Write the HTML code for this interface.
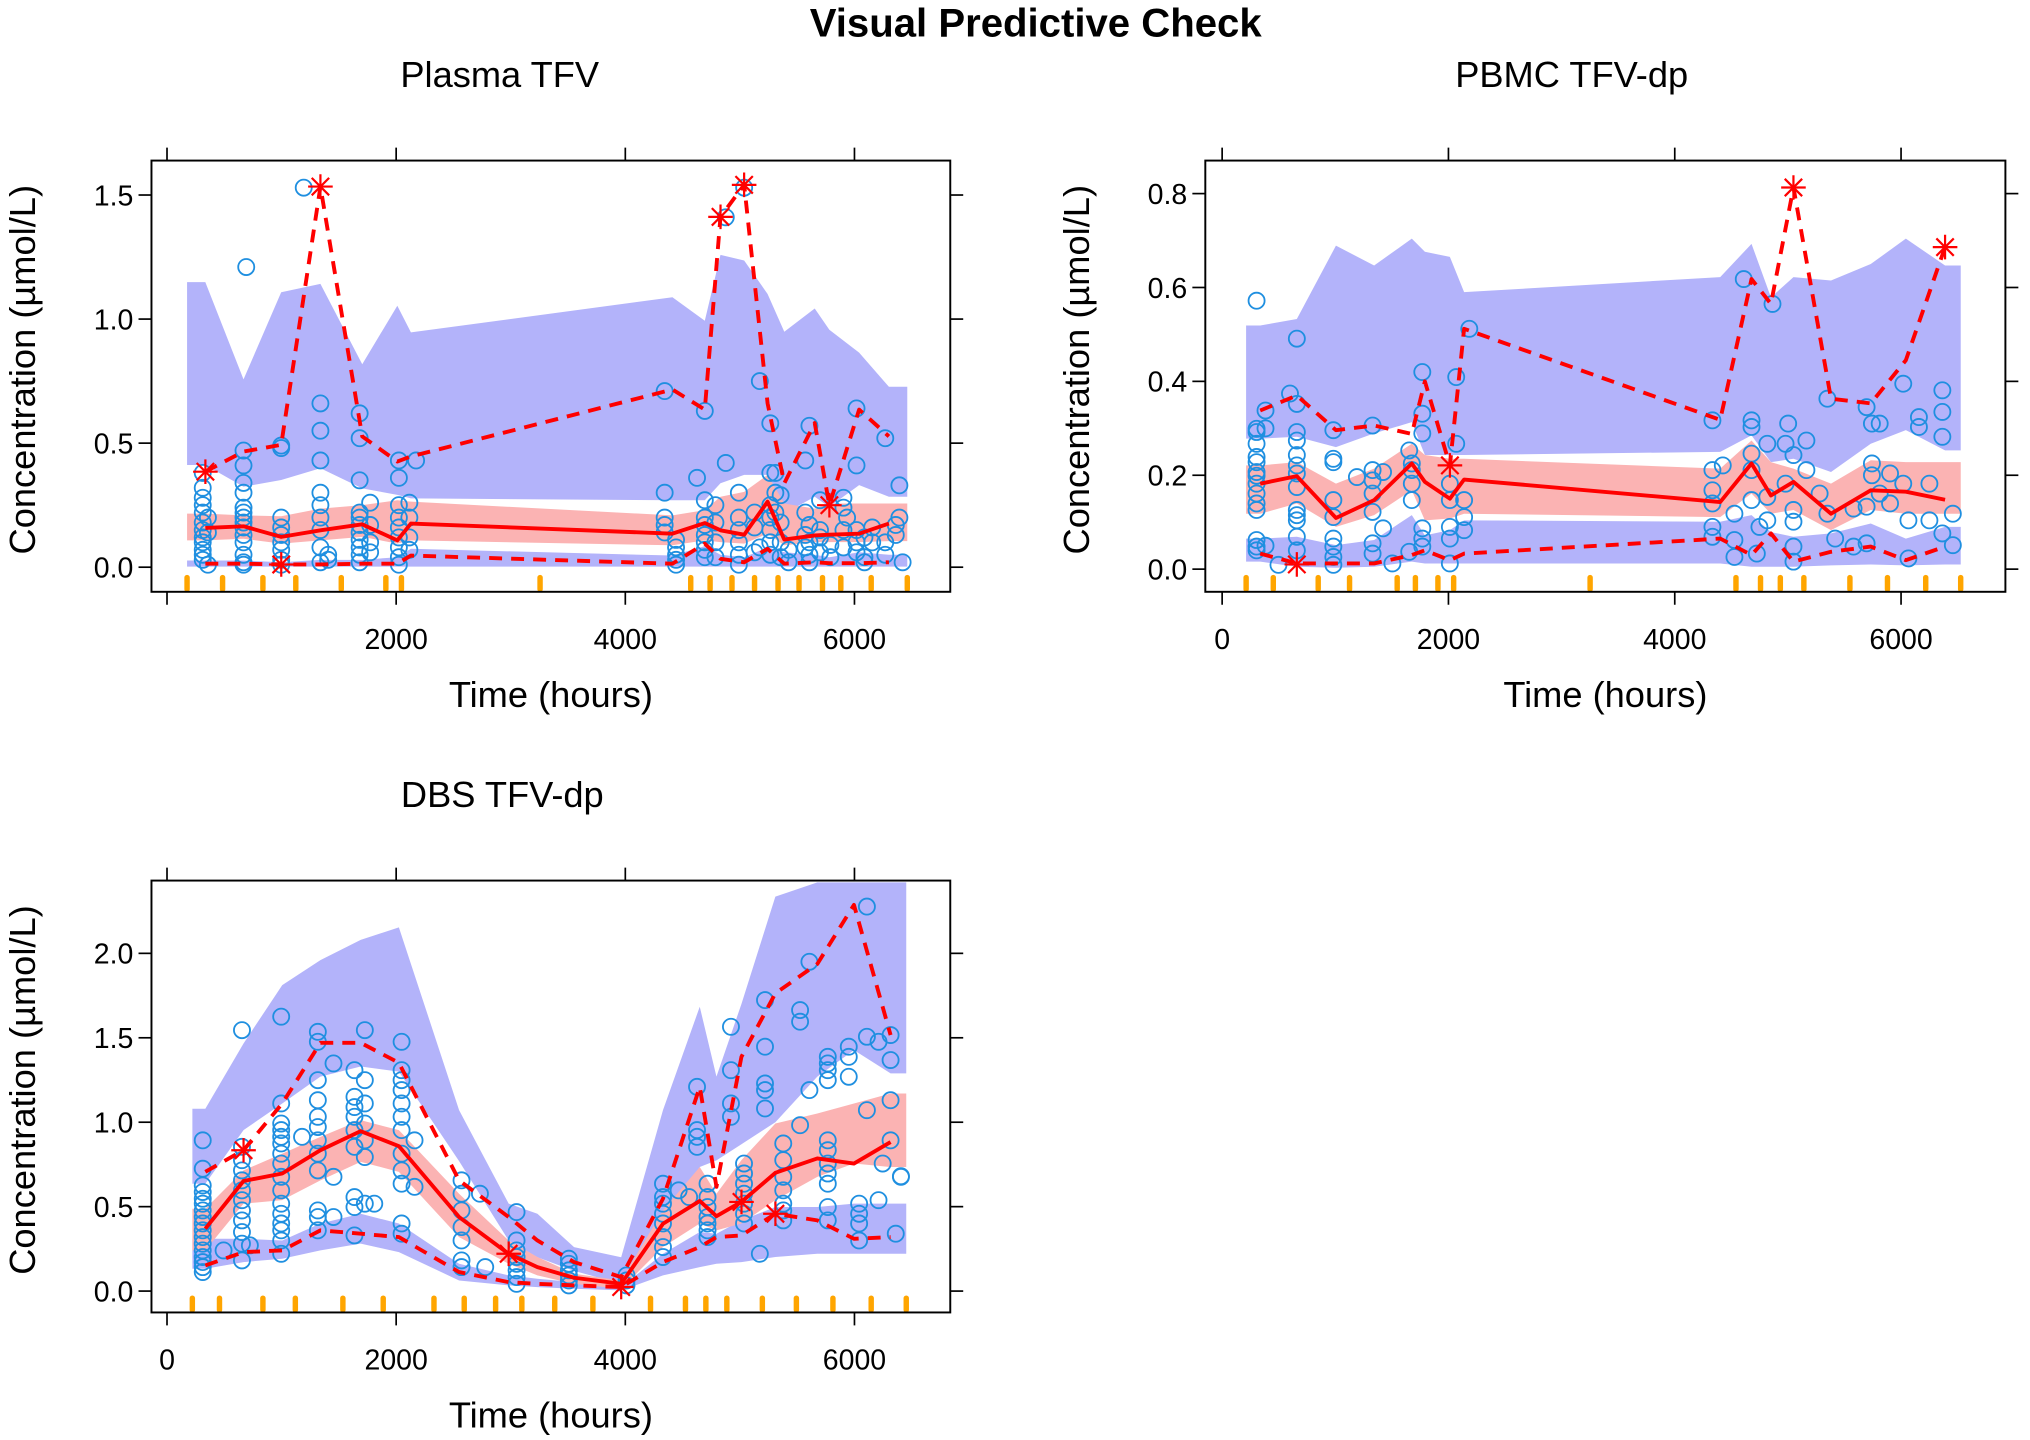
<!DOCTYPE html>
<html><head><meta charset="utf-8"><title>Visual Predictive Check</title>
<style>
html,body{margin:0;padding:0;background:#fff;}
svg{display:block;font-family:"Liberation Sans",Arial,sans-serif;}
</style></head>
<body>
<svg id="chart" width="2030" height="1440" viewBox="0 0 1568 1112" preserveAspectRatio="none" xmlns="http://www.w3.org/2000/svg">
<text x="800" y="28" text-anchor="middle" font-size="31" font-weight="bold">Visual Predictive Check</text>
</svg>
<script>
// ---------- Panel 1: Plasma TFV ----------
const p1Times=[335,668,997,1339,1704,2010,2129,4411,4694,4831,5037,5242,5388,5653,5781,6041,6301];
const p1Rug=[175,485,837,1124,1521,1910,2046,3256,4571,4740,4931,5128,5333,5516,5721,5881,6146,6461];
const p1HiBandTop=[1.149,0.757,1.108,1.142,0.818,1.054,0.946,1.088,0.993,1.259,1.236,1.101,0.949,1.043,0.957,0.865,0.727];
const p1HiBandBot=[0.412,0.324,0.351,0.399,0.318,0.291,0.277,0.270,0.270,0.338,0.372,0.372,0.216,0.284,0.243,0.331,0.284];
const p1MedBandTop=[0.216,0.209,0.205,0.236,0.250,0.270,0.264,0.209,0.230,0.284,0.304,0.372,0.257,0.236,0.257,0.257,0.257];
const p1MedBandBot=[0.108,0.115,0.095,0.108,0.122,0.095,0.108,0.088,0.108,0.101,0.095,0.135,0.088,0.101,0.101,0.101,0.105];
const p1LoBandTop=[0.027,0.027,0.020,0.030,0.030,0.040,0.074,0.047,0.085,0.050,0.040,0.080,0.060,0.050,0.040,0.060,0.050];
const p1LoBandBot=[0.002,0.002,0.002,0.002,0.002,0.002,0.002,0.002,0.002,0.002,0.002,0.002,0.002,0.002,0.002,0.002,0.002];
const p1ObsHi=[0.385,0.466,0.493,1.534,0.527,0.426,0.446,0.716,0.635,1.412,1.541,0.66,0.338,0.581,0.250,0.635,0.527];
const p1ObsMed=[0.158,0.165,0.122,0.149,0.173,0.108,0.176,0.135,0.178,0.149,0.131,0.264,0.111,0.128,0.131,0.135,0.176];
const p1ObsLo=[0.014,0.014,0.011,0.011,0.014,0.014,0.047,0.014,0.095,0.034,0.020,0.074,0.014,0.020,0.016,0.016,0.020];
const p1StarT=[335,997,1339,4831,5037,5781];
const p1StarV=[0.385,0.011,1.534,1.412,1.541,0.250];
const p1PtT=[312,357,668,691,997,1193,1339,1407,1681,1773,2024,2115,2174,4343,4443,4626,4694,4786,4877,4991,5037,5128,5174,5265,5310,5356,5425,5571,5607,5699,5790,5904,5936,6018,6087,6155,6269,6360,6392,6420];
const p1PtV=[[0.38,0.32,0.28,0.25,0.22,0.18,0.15,0.12,0.10,0.07,0.05,0.03],[0.2,0.14,0.01],[0.47,0.41,0.34,0.30,0.24,0.22,0.2,0.18,0.16,0.13,0.1,0.05,0.02,0.01],[1.21],[0.49,0.48,0.2,0.16,0.13,0.1,0.07,0.03,0.01],[1.53],[0.66,0.55,0.43,0.3,0.25,0.2,0.15,0.08,0.02],[0.05,0.03],[0.62,0.52,0.35,0.22,0.2,0.17,0.14,0.11,0.08,0.05,0.02],[0.26,0.17,0.1,0.06],[0.43,0.36,0.25,0.2,0.16,0.12,0.08,0.04,0.01],[0.26,0.2,0.12,0.07],[0.43],[0.71,0.30,0.2,0.17,0.14],[0.11,0.08,0.05,0.03,0.01],[0.36],[0.63,0.27,0.2,0.17,0.13,0.1,0.07,0.04],[0.25,0.18,0.1,0.04],[1.41,0.42],[0.3,0.2,0.15,0.1,0.05,0.01],[1.53],[0.22,0.16,0.06],[0.75,0.08],[0.58,0.38,0.25,0.2,0.15,0.1,0.05],[0.38,0.3,0.22],[0.29,0.18,0.1,0.04],[0.07,0.02],[0.43,0.22,0.13,0.08],[0.57,0.17,0.1,0.05,0.02],[0.27,0.15,0.12,0.06],[0.09,0.04],[0.28,0.24,0.15,0.08],[0.2],[0.64,0.41,0.15,0.1,0.06],[0.12,0.04,0.02],[0.16,0.1],[0.52,0.1,0.05],[0.17,0.13],[0.33,0.2],[0.02]];
const p1YTicks=[0,0.5,1.0,1.5];
const p1YLabels=["0.0","0.5","1.0","1.5"];
const p1XTicks=[0,2000,4000,6000];
const p1XLabels=["","2000","4000","6000"];

// ---------- Panel 2: PBMC TFV-dp ----------
const p2Times=[336,660,1006,1343,1676,1792,2013,2138,4402,4679,4850,5049,5381,5732,6042,6389];
const p2Rug=[212,452,849,1126,1547,1708,1907,2046,3252,4541,4758,4933,5141,5548,5880,6218,6527];
const p2HiBandTop=[0.519,0.533,0.689,0.647,0.704,0.676,0.665,0.590,0.622,0.693,0.579,0.622,0.615,0.650,0.704,0.647];
const p2HiBandBot=[0.278,0.282,0.260,0.289,0.313,0.243,0.243,0.243,0.250,0.285,0.228,0.235,0.207,0.267,0.296,0.253];
const p2MedBandTop=[0.221,0.228,0.182,0.214,0.267,0.243,0.235,0.235,0.214,0.274,0.228,0.214,0.182,0.232,0.228,0.228];
const p2MedBandBot=[0.118,0.140,0.090,0.115,0.168,0.104,0.108,0.118,0.111,0.161,0.118,0.126,0.083,0.126,0.118,0.118];
const p2LoBandTop=[0.065,0.069,0.051,0.062,0.115,0.072,0.083,0.104,0.101,0.115,0.079,0.069,0.076,0.097,0.065,0.090];
const p2LoBandBot=[0.016,0.005,0.003,0.005,0.016,0.012,0.012,0.012,0.012,0.005,0.005,0.005,0.008,0.010,0.008,0.010];
const p2ObsHi=[0.338,0.370,0.296,0.306,0.288,0.400,0.221,0.512,0.318,0.618,0.565,0.813,0.363,0.353,0.445,0.686];
const p2ObsMed=[0.182,0.198,0.109,0.147,0.225,0.186,0.150,0.191,0.143,0.225,0.157,0.186,0.118,0.168,0.165,0.148];
const p2ObsLo=[0.033,0.012,0.012,0.012,0.030,0.040,0.019,0.033,0.065,0.030,0.076,0.016,0.037,0.048,0.019,0.048];
const p2StarT=[660,2013,5049,6389];
const p2StarV=[0.010,0.221,0.813,0.686];
const p2PtT=[304,383,498,600,660,983,1191,1330,1422,1505,1653,1676,1769,2013,2069,2138,2184,4333,4425,4527,4610,4679,4725,4748,4818,4864,4979,5002,5049,5164,5280,5349,5418,5580,5696,5742,5811,5903,6019,6065,6158,6250,6365,6458];
const p2PtV=[[0.572,0.299,0.292,0.267,0.239,0.228,0.207,0.199,0.182,0.161,0.140,0.126,0.062,0.048,0.040],[0.338,0.3,0.05],[0.009],[0.374],[0.491,0.352,0.292,0.274,0.243,0.221,0.204,0.175,0.126,0.115,0.104,0.069,0.040],[0.296,0.235,0.228,0.147,0.111,0.065,0.048,0.026,0.009],[0.196],[0.306,0.211,0.189,0.161,0.122,0.055,0.033],[0.207,0.087],[0.012],[0.253,0.037],[0.225,0.211,0.182,0.147],[0.42,0.331,0.289,0.087,0.065,0.048],[0.182,0.147,0.09,0.065,0.012],[0.409,0.267],[0.147,0.111,0.083],[0.512],[0.317,0.211,0.168,0.14,0.09,0.069],[0.221],[0.118,0.062,0.026],[0.618],[0.317,0.303,0.246,0.211,0.147],[0.033],[0.09],[0.267,0.154,0.104],[0.565],[0.267,0.182],[0.31],[0.243,0.126,0.101,0.048,0.016],[0.274,0.211],[0.161],[0.363,0.118],[0.065],[0.129,0.048],[0.345,0.133,0.055],[0.31,0.225,0.2],[0.31,0.161],[0.204,0.14],[0.395,0.182],[0.104,0.023],[0.303,0.324],[0.182,0.104],[0.381,0.335,0.282,0.076],[0.118,0.051]];
const p2YTicks=[0,0.2,0.4,0.6,0.8];
const p2YLabels=["0.0","0.2","0.4","0.6","0.8"];
const p2XTicks=[0,2000,4000,6000];
const p2XLabels=["0","2000","4000","6000"];

// ---------- Panel 3: DBS TFV-dp ----------
const p3Times=[335,668,1006,1339,1690,2024,2549,2982,3233,3553,3964,4329,4650,4795,5014,5310,5676,5995,6315];
const p3Rug=[221,458,837,1120,1535,1887,2330,2594,2868,3097,3384,3717,4220,4525,4703,4886,5196,5493,5812,6146,6452];
const p3HiBandTop=[1.08,1.466,1.812,1.96,2.08,2.154,1.071,0.518,0.458,0.26,0.2,1.071,1.684,1.27,1.70,2.336,2.42,2.42,2.42];
const p3HiBandBot=[0.636,0.953,1.111,1.27,1.33,1.3,0.77,0.30,0.20,0.12,0.044,0.4,0.735,0.774,0.87,1.0,1.27,1.427,1.289];
const p3MedBandTop=[0.488,0.715,0.814,0.913,1.012,0.953,0.577,0.300,0.202,0.103,0.063,0.478,0.735,0.577,0.775,0.992,1.051,1.111,1.17];
const p3MedBandBot=[0.241,0.518,0.538,0.656,0.765,0.706,0.32,0.162,0.093,0.043,0.014,0.261,0.4,0.36,0.4,0.538,0.676,0.755,0.735];
const p3LoBandTop=[0.31,0.31,0.3,0.4,0.458,0.4,0.162,0.093,0.073,0.053,0.024,0.221,0.35,0.34,0.419,0.498,0.498,0.518,0.518];
const p3LoBandBot=[0.132,0.172,0.192,0.241,0.281,0.231,0.063,0.034,0.024,0.014,0.004,0.093,0.142,0.162,0.172,0.202,0.221,0.221,0.221];
const p3ObsHi=[0.706,0.834,1.111,1.47,1.47,1.352,0.656,0.439,0.300,0.172,0.083,0.547,1.209,0.617,1.387,1.763,1.937,2.287,1.516];
const p3ObsMed=[0.37,0.652,0.696,0.834,0.947,0.858,0.439,0.221,0.142,0.079,0.043,0.399,0.534,0.443,0.528,0.700,0.785,0.755,0.883];
const p3ObsLo=[0.152,0.231,0.241,0.36,0.34,0.32,0.113,0.053,0.043,0.034,0.024,0.172,0.261,0.32,0.33,0.458,0.419,0.31,0.32];
const p3StarT=[668,2982,3964,5014,5310];
const p3StarV=[0.834,0.221,0.024,0.528,0.458];
const p3PtT=[312,494,654,723,997,1179,1316,1453,1636,1727,1809,2047,2161,2571,2731,2777,3051,3507,4010,4329,4466,4557,4626,4717,4922,5036,5174,5219,5379,5525,5607,5767,5950,6041,6109,6210,6246,6315,6360,6406];
const p3PtV=[[0.893,0.725,0.626,0.587,0.547,0.518,0.478,0.439,0.4,0.36,0.32,0.281,0.241,0.202,0.172,0.142,0.113],[0.241],[1.545,0.854,0.775,0.715,0.656,0.597,0.538,0.478,0.419,0.35,0.281,0.182],[0.271],[1.625,1.111,0.992,0.953,0.913,0.874,0.814,0.755,0.676,0.597,0.518,0.458,0.4,0.36,0.3,0.221],[0.913],[1.535,1.476,1.249,1.13,1.032,0.972,0.893,0.814,0.715,0.478,0.439,0.36],[1.348,0.676,0.439],[1.308,1.15,1.09,1.032,0.953,0.854,0.557,0.498,0.33],[1.545,1.249,1.111,0.992,0.893,0.794,0.518],[0.518],[1.476,1.308,1.249,1.19,1.111,1.032,0.953,0.814,0.715,0.636,0.4,0.34],[0.893,0.617],[0.656,0.577,0.478,0.379,0.3,0.182,0.142],[0.577],[0.142],[0.468,0.3,0.241,0.202,0.162,0.123,0.083,0.043],[0.192,0.162,0.123,0.093,0.063,0.034],[0.093,0.063,0.034],[0.636,0.557,0.518,0.458,0.4,0.32,0.261,0.202],[0.597],[0.557],[1.209,0.953,0.913,0.854],[0.636,0.557,0.498,0.439,0.4,0.36,0.32],[1.565,1.308,1.111,1.032],[0.755,0.696,0.636,0.577,0.518,0.458,0.4],[0.221],[1.723,1.447,1.229,1.19,1.081],[0.874,0.775,0.676,0.597,0.518,0.478,0.419],[1.664,1.595,0.982],[1.95,1.19],[1.387,1.348,1.308,1.249,0.893,0.834,0.755,0.696,0.636,0.498,0.419],[1.447,1.387,1.269],[0.518,0.458,0.4,0.3],[2.277,1.506,1.071],[1.476,0.538],[0.755],[1.516,1.368,1.13,0.893],[0.34],[0.676,0.68]];
const p3YTicks=[0,0.5,1.0,1.5,2.0];
const p3YLabels=["0.0","0.5","1.0","1.5","2.0"];
const p3XTicks=[0,2000,4000,6000];
const p3XLabels=["0","2000","4000","6000"];

const NS="http://www.w3.org/2000/svg";
const svg=document.getElementById('chart');
function mk(tag,parent,attrs){const e=document.createElementNS(NS,tag);for(const k in attrs)e.setAttribute(k,attrs[k]);parent.appendChild(e);return e;}

const BLUE="#b3b3fa", PINK="#fbb3b3", CIRC="#1f8fe0", RED="#ff0000", RUG="#ffa500";

function drawPanel(cfg,d){
  const g=mk('g',svg,{});
  
  
  const X=t=>cfg.x0+t*cfg.kx, Y=v=>cfg.y0-v*cfg.ky;
  const clipId=cfg.name+'-clip';
  const defs=mk('defs',g,{});
  const cp=mk('clipPath',defs,{id:clipId});
  mk('rect',cp,{x:cfg.L,y:cfg.T,width:cfg.R-cfg.L,height:cfg.B-cfg.T});
  const plot=mk('g',g,{'clip-path':'url(#'+clipId+')'});
  
  
  const tFirst=d.rug[0], tLast=d.rug[d.rug.length-1];
  function band(top,bot,color,name){
    const ts=[tFirst].concat(d.times,[tLast]);
    const up=[top[0]].concat(top,[top[top.length-1]]);
    const lo=[bot[0]].concat(bot,[bot[bot.length-1]]);
    let pts=[];
    for(let i=0;i<ts.length;i++)pts.push(X(ts[i]).toFixed(1)+','+Y(up[i]).toFixed(1));
    for(let i=ts.length-1;i>=0;i--)pts.push(X(ts[i]).toFixed(1)+','+Y(lo[i]).toFixed(1));
    const p=mk('polygon',plot,{points:pts.join(' '),fill:color,stroke:'none'});
    
    
  }
  band(d.hiTop,d.hiBot,BLUE,'pi-band-95th');
  band(d.loTop,d.loBot,BLUE,'pi-band-5th');
  band(d.medTop,d.medBot,PINK,'pi-band-median');
  for(let i=0;i<d.ptT.length;i++){
    for(const v of d.ptV[i]){
      const c=mk('circle',plot,{cx:X(d.ptT[i]).toFixed(1),cy:Y(v).toFixed(1),r:6.2,fill:'none',stroke:CIRC,'stroke-width':1.4});
      
      
    }
  }
  function line(vals,dash,name){
    const pts=d.times.map((t,i)=>X(t).toFixed(1)+','+Y(vals[i]).toFixed(1)).join(' ');
    const a={points:pts,fill:'none',stroke:RED,'stroke-width':3,'stroke-linejoin':'round'};
    if(dash)a['stroke-dasharray']='10,7';
    const l=mk('polyline',plot,a);
    
    
  }
  line(d.obsHi,true,'observed-95th-line');
  line(d.obsLo,true,'observed-5th-line');
  line(d.obsMed,false,'observed-median-line');
  for(let i=0;i<d.starT.length;i++){
    const cx=X(d.starT[i]), cy=Y(d.starV[i]), r=9.5;
    const s=mk('g',plot,{stroke:RED,'stroke-width':1.7});
    
    
    for(let k=0;k<4;k++){const a=k*Math.PI/4;mk('line',s,{x1:cx-r*Math.cos(a),y1:cy-r*Math.sin(a),x2:cx+r*Math.cos(a),y2:cy+r*Math.sin(a)});}
  }
  for(const t of d.rug){
    const r=mk('line',plot,{x1:X(t),x2:X(t),y1:cfg.B-11,y2:cfg.B-2,stroke:RUG,'stroke-width':4.2,'stroke-linecap':'round'});
    
    
  }
  const box=mk('rect',g,{x:cfg.L,y:cfg.T,width:cfg.R-cfg.L,height:cfg.B-cfg.T,fill:'none',stroke:'#000','stroke-width':1.5});
  
  
  const tl=10;
  d.xTicks.forEach((t,i)=>{
    const x=X(t);
    mk('line',g,{x1:x,x2:x,y1:cfg.B,y2:cfg.B+tl,stroke:'#000','stroke-width':1.3});
    mk('line',g,{x1:x,x2:x,y1:cfg.T,y2:cfg.T-tl,stroke:'#000','stroke-width':1.3});
    if(d.xLabels[i]){
      const tx=mk('text',g,{x:x,y:cfg.B+44,'text-anchor':'middle','font-size':22});
      tx.textContent=d.xLabels[i];
      
      
    }
  });
  d.yTicks.forEach((v,i)=>{
    const y=Y(v);
    mk('line',g,{x1:cfg.L,x2:cfg.L-tl,y1:y,y2:y,stroke:'#000','stroke-width':1.3});
    mk('line',g,{x1:cfg.R,x2:cfg.R+tl,y1:y,y2:y,stroke:'#000','stroke-width':1.3});
    const ty=mk('text',g,{x:cfg.L-14,y:y+8,'text-anchor':'end','font-size':22});
    ty.textContent=d.yLabels[i];
    
    
  });
  const title=mk('text',g,{x:cfg.titleX,y:cfg.T-57,'text-anchor':'middle','font-size':28});
  title.textContent=cfg.title;
  
  
  const xt=mk('text',g,{x:(cfg.L+cfg.R)/2,y:cfg.B+89,'text-anchor':'middle','font-size':28});
  xt.textContent='Time (hours)';
  
  
  const cy=(cfg.T+cfg.B)/2-5, cx=cfg.L-90;
  const yt=mk('text',g,{x:cx,y:cy,'text-anchor':'middle','font-size':28,transform:'rotate(-90 '+cx+' '+cy+')'});
  yt.textContent='Concentration (\u00b5mol/L)';
  
  
}

drawPanel({name:'panel-plasma-tfv',title:'Plasma TFV',titleX:386,L:117,R:734,T:124,B:457,x0:129,kx:0.0885,y0:438,ky:191.6},
 {times:p1Times,rug:p1Rug,hiTop:p1HiBandTop,hiBot:p1HiBandBot,medTop:p1MedBandTop,medBot:p1MedBandBot,loTop:p1LoBandTop,loBot:p1LoBandBot,obsHi:p1ObsHi,obsMed:p1ObsMed,obsLo:p1ObsLo,starT:p1StarT,starV:p1StarV,ptT:p1PtT,ptV:p1PtV,xTicks:p1XTicks,xLabels:p1XLabels,yTicks:p1YTicks,yLabels:p1YLabels});
drawPanel({name:'panel-pbmc-tfv-dp',title:'PBMC TFV-dp',titleX:1214,L:931,R:1549,T:124,B:457,x0:944,kx:0.0874,y0:439.5,ky:362.5},
 {times:p2Times,rug:p2Rug,hiTop:p2HiBandTop,hiBot:p2HiBandBot,medTop:p2MedBandTop,medBot:p2MedBandBot,loTop:p2LoBandTop,loBot:p2LoBandBot,obsHi:p2ObsHi,obsMed:p2ObsMed,obsLo:p2ObsLo,starT:p2StarT,starV:p2StarV,ptT:p2PtT,ptV:p2PtV,xTicks:p2XTicks,xLabels:p2XLabels,yTicks:p2YTicks,yLabels:p2YLabels});
drawPanel({name:'panel-dbs-tfv-dp',title:'DBS TFV-dp',titleX:388,L:117,R:734,T:680,B:1013.5,x0:129,kx:0.0885,y0:997,ky:130.4},
 {times:p3Times,rug:p3Rug,hiTop:p3HiBandTop,hiBot:p3HiBandBot,medTop:p3MedBandTop,medBot:p3MedBandBot,loTop:p3LoBandTop,loBot:p3LoBandBot,obsHi:p3ObsHi,obsMed:p3ObsMed,obsLo:p3ObsLo,starT:p3StarT,starV:p3StarV,ptT:p3PtT,ptV:p3PtV,xTicks:p3XTicks,xLabels:p3XLabels,yTicks:p3YTicks,yLabels:p3YLabels});
</script>
</body></html>
